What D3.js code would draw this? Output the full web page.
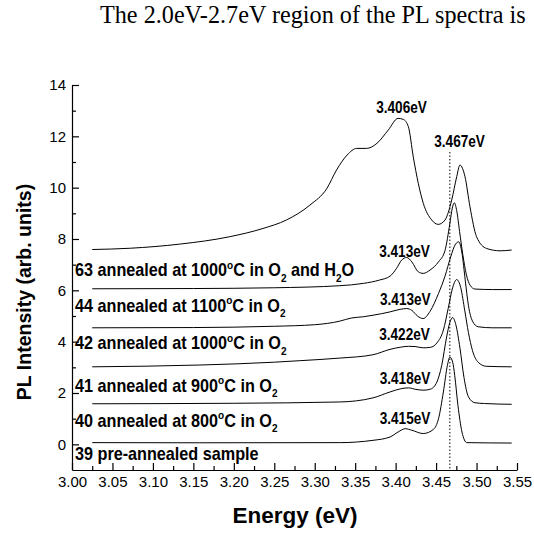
<!DOCTYPE html>
<html><head><meta charset="utf-8">
<script src="https://cdn.jsdelivr.net/npm/d3@7"></script>
<style>body{margin:0;background:#fff}svg{display:block}</style>
</head><body>
<svg id="c" width="534" height="538"></svg>
<script>
// ---------- data ----------
const headerText = "The 2.0eV-2.7eV region of the PL spectra is";
const xTitle = "Energy (eV)";
const yTitle = "PL Intensity (arb. units)";
const xTicks = [3.00,3.05,3.10,3.15,3.20,3.25,3.30,3.35,3.40,3.45,3.50,3.55];
const xTickLabels = ["3.00","3.05","3.10","3.15","3.20","3.25","3.30","3.35","3.40","3.45","3.50","3.55"];
const xMinor = [3.025,3.075,3.125,3.175,3.225,3.275,3.325,3.375,3.425,3.475,3.525];
const yTicks = [0,2,4,6,8,10,12,14];
const yTickLabels = ["0","2","4","6","8","10","12","14"];
const yMinor = [1,3,5,7,9,11,13];

const s63 = [[3.025,7.59],[3.072,7.64],[3.133,7.80],[3.195,8.09],[3.236,8.41],[3.265,8.74],[3.294,9.32],[3.315,9.97],[3.327,10.69],[3.340,11.27],[3.352,11.53],[3.364,11.53],[3.377,11.73],[3.391,12.25],[3.403,12.70],[3.4095,12.66],[3.4157,12.38],[3.4218,11.20],[3.428,10.17],[3.4342,9.39],[3.4446,8.74],[3.4527,8.57],[3.461,8.74],[3.4693,9.52],[3.4755,10.43],[3.4795,10.88],[3.4857,10.43],[3.4919,9.25],[3.500,8.09],[3.5125,7.63],[3.529,7.54],[3.5434,7.57]];
const s44 = [[3.025,6.06],[3.15,6.07],[3.25,6.10],[3.331,6.18],[3.360,6.27],[3.380,6.40],[3.393,6.55],[3.401,6.85],[3.4075,7.18],[3.4137,7.28],[3.420,7.11],[3.428,6.72],[3.434,6.66],[3.4425,6.79],[3.453,7.11],[3.461,7.55],[3.467,8.6],[3.470,9.2],[3.4725,9.41],[3.4755,9.10],[3.479,8.3],[3.483,7.4],[3.4875,6.6],[3.492,6.2],[3.498,6.05],[3.52,6.03],[3.5434,6.03]];
const s42 = [[3.025,4.54],[3.15,4.55],[3.25,4.60],[3.300,4.66],[3.331,4.80],[3.345,4.92],[3.360,4.97],[3.372,5.03],[3.393,5.16],[3.4055,5.26],[3.4137,5.29],[3.420,5.22],[3.427,5.0],[3.434,4.90],[3.4425,5.18],[3.453,5.88],[3.461,6.55],[3.468,7.3],[3.474,7.8],[3.478,7.89],[3.482,7.45],[3.486,6.4],[3.490,5.4],[3.495,4.8],[3.502,4.58],[3.52,4.54],[3.5434,4.54]];
const s41 = [[3.025,3.02],[3.158,3.09],[3.25,3.20],[3.282,3.26],[3.331,3.36],[3.372,3.49],[3.393,3.70],[3.407,3.79],[3.416,3.82],[3.424,3.81],[3.434,3.76],[3.443,3.78],[3.451,3.95],[3.459,4.45],[3.465,5.3],[3.470,6.05],[3.4755,6.42],[3.4805,6.1],[3.4855,5.2],[3.490,4.35],[3.495,3.65],[3.502,3.2],[3.512,3.04],[3.5434,3.02]];
const s40 = [[3.025,1.58],[3.20,1.60],[3.331,1.65],[3.372,1.81],[3.393,2.04],[3.407,2.17],[3.416,2.20],[3.425,2.14],[3.435,2.11],[3.443,2.15],[3.451,2.43],[3.457,3.08],[3.463,4.18],[3.467,4.75],[3.4705,4.94],[3.4745,4.65],[3.4795,3.75],[3.4845,2.60],[3.490,1.85],[3.498,1.62],[3.51,1.59],[3.5434,1.56]];
const s39 = [[3.025,0.066],[3.158,0.06],[3.331,0.066],[3.372,0.156],[3.393,0.285],[3.403,0.48],[3.412,0.61],[3.420,0.55],[3.434,0.42],[3.447,0.59],[3.453,1.0],[3.459,2.04],[3.464,3.08],[3.467,3.40],[3.4705,3.2],[3.473,2.69],[3.477,1.52],[3.482,0.48],[3.488,0.066],[3.5434,0.05]];
const series = [s63, s44, s42, s41, s40, s39];

const sampleLabels = ["63 annealed at 1000^oC in O_2 and H_2O","44 annealed at 1100^oC in O_2","42 annealed at 1000^oC in O_2","41 annealed at 900^oC in O_2","40 annealed at 800^oC in O_2","39 pre-annealed sample"];
const sampleLabelV = [6.54, 5.16, 3.71, 2.04, 0.675, -0.61];
const sampleLabelE = 3.0037;

const peakTexts = ["3.406eV","3.467eV","3.413eV","3.413eV","3.422eV","3.418eV","3.415eV"];
const peakE = [3.4073, 3.479, 3.411, 3.412, 3.411, 3.4116, 3.4116];
const peakV = [12.91, 11.58, 7.30, 5.43, 4.08, 2.35, 0.79];

const refLineE = 3.467;
const refLineTop = 11.39;

// ---------- drawing ----------
const svg = d3.select("#c");
const x = d3.scaleLinear().domain([3.00, 3.55]).range([72, 517]);
const y = d3.scaleLinear().domain([-1, 14]).range([470, 85]);
const sans = "'Liberation Sans', Arial, sans-serif";

svg.append("text").attr("x", 100).attr("y", 23)
  .style("font-family", "'Liberation Serif','Times New Roman',serif").style("font-size", "24.2px")
  .text(headerText);

// x axis
const gx = svg.append("g").attr("transform", `translate(0,${y(-1)})`);
gx.call(d3.axisBottom(x).tickValues(xTicks).tickFormat((d,i)=>xTickLabels[i])
  .tickSizeInner(-7).tickSizeOuter(0).tickPadding(6));
gx.append("g").call(d3.axisBottom(x).tickValues(xMinor).tickFormat("").tickSizeInner(-4).tickSizeOuter(0))
  .select(".domain").remove();
// y axis
const gy = svg.append("g").attr("transform", `translate(${x(3.00)},0)`);
gy.call(d3.axisLeft(y).tickValues(yTicks).tickFormat((d,i)=>yTickLabels[i])
  .tickSizeInner(-7).tickSizeOuter(0).tickPadding(6));
gy.append("g").call(d3.axisLeft(y).tickValues(yMinor).tickFormat("").tickSizeInner(-4).tickSizeOuter(0))
  .select(".domain").remove();
svg.selectAll(".tick text").style("font-family", sans).style("font-size", "15px").attr("fill", "#000");
svg.selectAll(".domain, .tick line").attr("stroke", "#000").attr("stroke-width", 1.2);

// titles
svg.append("text").attr("x", 295).attr("y", 523).attr("text-anchor", "middle")
  .style("font-family", sans).style("font-weight", "bold").style("font-size", "22.5px").text(xTitle);
svg.append("text").attr("transform", "translate(31,292) rotate(-90)").attr("text-anchor", "middle")
  .style("font-family", sans).style("font-weight", "bold").style("font-size", "19.5px").text(yTitle);

// reference dotted line
svg.append("line").attr("x1", x(refLineE)).attr("x2", x(refLineE))
  .attr("y1", y(refLineTop)).attr("y2", y(-1))
  .attr("stroke", "#000").attr("stroke-width", 1).attr("stroke-dasharray", "1.5,2");

// curves
const line = d3.line().x(d => x(d[0])).y(d => y(d[1])).curve(d3.curveMonotoneX);
svg.append("g").selectAll("path").data(series).join("path")
  .attr("d", line).attr("fill", "none").attr("stroke", "#000").attr("stroke-width", 1);

// rich text helper
function rich(t, str, fs) {
  const re = /([\^_])(.)/g; let last = 0, m; const parts = [];
  while ((m = re.exec(str))) {
    if (m.index > last) parts.push({t: str.slice(last, m.index), k: 0});
    parts.push({t: m[2], k: m[1] === "^" ? 1 : -1}); last = re.lastIndex;
  }
  if (last < str.length) parts.push({t: str.slice(last), k: 0});
  let cur = 0;
  parts.forEach(p => {
    const target = p.k === 1 ? -0.42 * fs : p.k === -1 ? 0.3 * fs : 0;
    const ts = t.append("tspan").attr("dy", target - cur).text(p.t);
    if (p.k) ts.style("font-size", (0.62 * fs) + "px");
    cur = target;
  });
}
const lf = 18;
sampleLabels.forEach((s, i) => {
  const t = svg.append("text")
    .attr("transform", `translate(${x(sampleLabelE)},${y(sampleLabelV[i])}) scale(0.9,1)`)
    .style("font-family", sans).style("font-weight", "bold").style("font-size", lf + "px");
  rich(t, s, lf);
});

// peak labels
svg.append("g").selectAll("text").data(peakTexts).join("text")
  .attr("transform", (d,i) => `translate(${x(peakE[i])},${y(peakV[i])}) scale(0.85,1)`)
  .attr("text-anchor", "middle")
  .style("font-family", sans).style("font-weight", "bold").style("font-size", "16px").text(d => d);
</script>
</body></html>
